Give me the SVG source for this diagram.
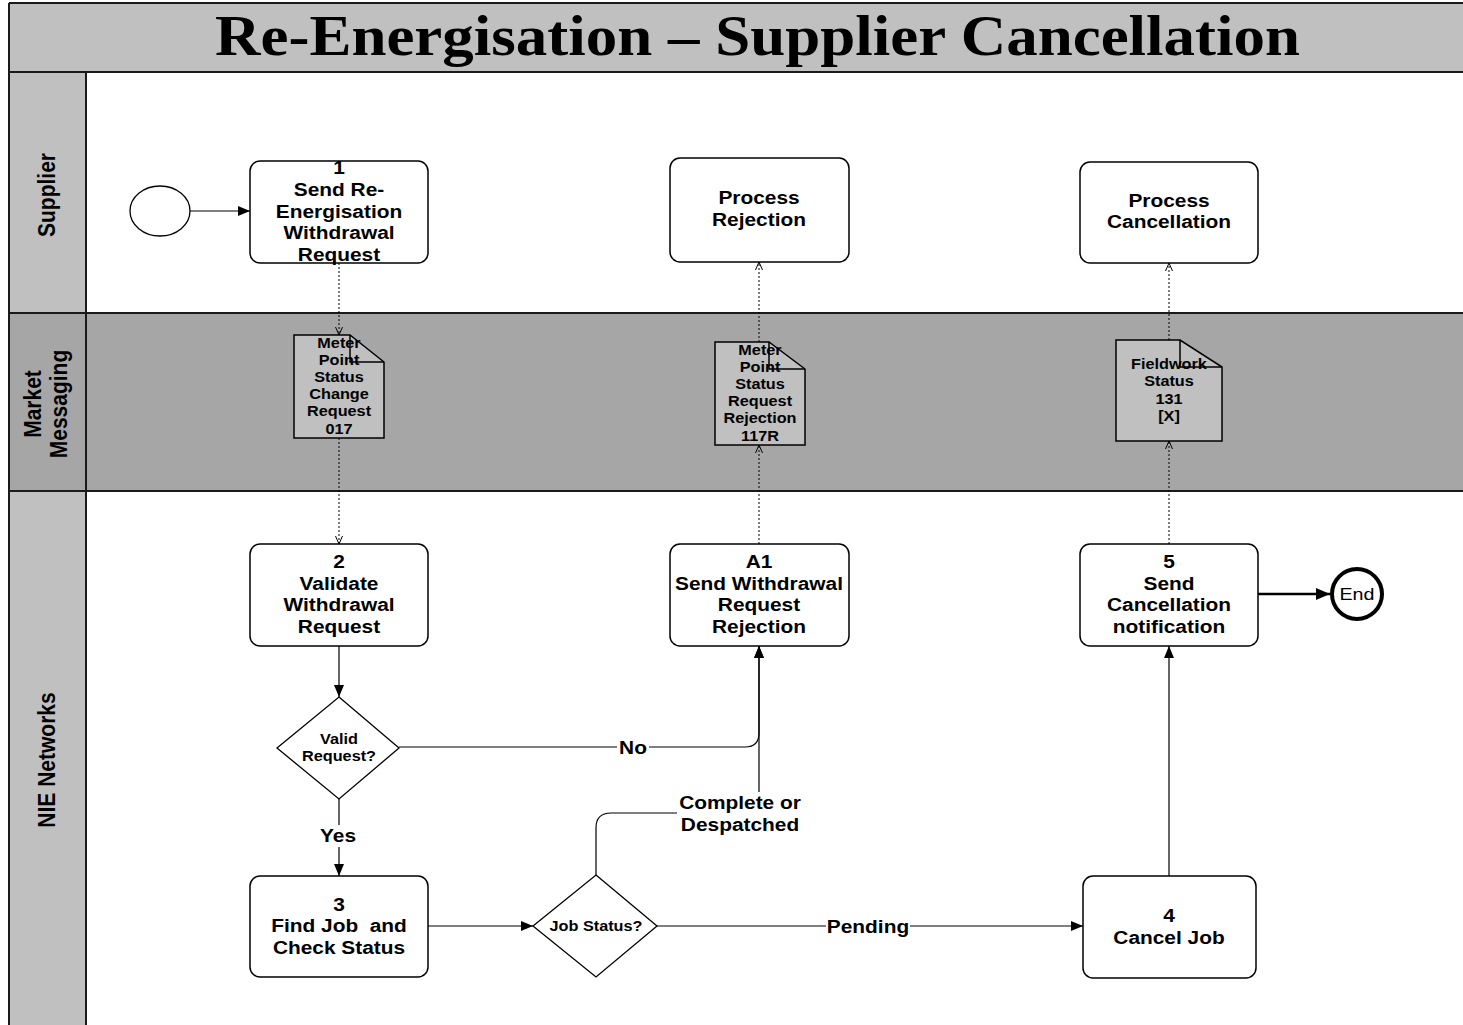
<svg xmlns="http://www.w3.org/2000/svg" width="1463" height="1025" viewBox="0 0 1463 1025">
  <style>
    .lane-line { stroke: #1a1a1a; stroke-width: 2; fill: none; }
    .box { fill: #ffffff; stroke: #000000; stroke-width: 1.5; }
    .doc { fill: #c0c0c0; stroke: #000000; stroke-width: 1.5; }
    .fold { fill: none; stroke: #000000; stroke-width: 1.5; }
    .gate { fill: #ffffff; stroke: #000000; stroke-width: 1.3; }
    .t { font-family: "Liberation Sans", Arial, sans-serif; font-weight: bold; font-size: 18px; text-anchor: middle; fill: #000000; }
    .ts { font-family: "Liberation Sans", Arial, sans-serif; font-weight: bold; font-size: 14px; text-anchor: middle; fill: #000000; }
    .lane { font-family: "Liberation Sans", Arial, sans-serif; font-weight: bold; font-size: 21px; text-anchor: middle; fill: #000000; }
    .flow { fill: none; stroke: #000000; stroke-width: 1.2; marker-end: url(#solid); }
    .msg { fill: none; stroke: #000000; stroke-width: 1; stroke-dasharray: 2 2; marker-end: url(#open); }
    .lblbg { fill: #ffffff; }
  </style>
  <defs>
    <marker id="solid" markerUnits="userSpaceOnUse" markerWidth="12" markerHeight="10" refX="12" refY="5" orient="auto">
      <path d="M0,0 L12,5 L0,10 z" fill="#000000"/>
    </marker>
    <marker id="solidBig" markerUnits="userSpaceOnUse" markerWidth="14" markerHeight="12" refX="14" refY="6" orient="auto">
      <path d="M0,0 L14,6 L0,12 z" fill="#000000"/>
    </marker>
    <marker id="open" markerUnits="userSpaceOnUse" markerWidth="10" markerHeight="8" refX="9" refY="4" orient="auto">
      <path d="M1,0.5 L9,4 L1,7.5" fill="none" stroke="#000000" stroke-width="1"/>
    </marker>
  </defs>

  <!-- title band -->
  <g id="title">
    <rect x="9" y="3" width="1460" height="69" fill="#c0c0c0"/>
    <text x="215" y="55" textLength="1085" lengthAdjust="spacingAndGlyphs" font-family="'Liberation Serif', 'Times New Roman', serif" font-weight="bold" font-size="57" fill="#000000">Re-Energisation – Supplier Cancellation</text>
  </g>

  <!-- swimlanes -->
  <g id="lanes">
    <rect x="9" y="72" width="77" height="241" fill="#c0c0c0"/>
    <rect x="86" y="72" width="1380" height="241" fill="#ffffff"/>
    <rect x="9" y="313" width="1460" height="178" fill="#a6a6a6"/>
    <rect x="9" y="491" width="77" height="540" fill="#c0c0c0"/>
    <rect x="86" y="491" width="1380" height="540" fill="#ffffff"/>
    <path class="lane-line" d="M9,3 H1470 M9,72 H1470 M9,313 H1470 M9,491 H1470 M9,3 V1030 M86,72 V1030"/>
    <text class="lane" transform="translate(55 195) scale(1.16 1) rotate(-90)" x="0" y="0">Supplier</text>
    <text class="lane" transform="translate(41 404) scale(1.16 1) rotate(-90)" x="0" y="0">Market</text>
    <text class="lane" transform="translate(67 404) scale(1.16 1) rotate(-90)" x="0" y="0">Messaging</text>
    <text class="lane" transform="translate(55 760) scale(1.16 1) rotate(-90)" x="0" y="0">NIE Networks</text>
  </g>

  <!-- connectors -->
  <g id="connectors">
    <path class="flow" d="M190,211 H250"/>
    <path class="flow" d="M339,646 V697"/>
    <path class="flow" d="M339,799 V876"/>
    <path class="flow" d="M428,926 H533"/>
    <path class="flow" d="M657,926 H1083"/>
    <path class="flow" d="M1169,876 V646"/>
    <path class="flow" d="M399,747 H745 Q759,747 759,733 V646"/>
    <path class="flow" d="M596,875 V828 Q596,813 611,813 H759 V646"/>
    <path d="M1258,594 H1330" fill="none" stroke="#000000" stroke-width="2.5" marker-end="url(#solidBig)"/>

    <path class="msg" d="M339,263 V335"/>
    <path class="msg" d="M339,438 V544"/>
    <path class="msg" d="M759,544 V445"/>
    <path class="msg" d="M759,342 V262"/>
    <path class="msg" d="M1169,544 V441"/>
    <path class="msg" d="M1169,340 V263"/>

    <rect class="lblbg" x="617" y="737" width="32" height="22"/>
    <text class="t" transform="translate(633 0) scale(1.16 1)" x="0" y="754">No</text>
    <rect class="lblbg" x="318" y="825" width="40" height="22"/>
    <text class="t" transform="translate(338 0) scale(1.16 1)" x="0" y="842">Yes</text>
    <rect class="lblbg" x="826" y="916" width="84" height="22"/>
    <text class="t" transform="translate(868 0) scale(1.16 1)" x="0" y="933">Pending</text>
    <rect class="lblbg" x="677" y="792" width="126" height="44"/>
    <text class="t" transform="translate(740 0) scale(1.16 1)"><tspan x="0" y="809">Complete or</tspan><tspan x="0" y="831">Despatched</tspan></text>
  </g>

  <!-- start event -->
  <g id="start">
    <ellipse cx="160" cy="211" rx="30" ry="25" fill="#ffffff" stroke="#000000" stroke-width="1.3"/>
  </g>

  <!-- supplier tasks -->
  <g id="task1">
    <rect class="box" x="250" y="161" width="178" height="102" rx="10"/>
    <text class="t" transform="translate(339 0) scale(1.16 1)"><tspan x="0" y="174">1</tspan><tspan x="0" y="196">Send Re-</tspan><tspan x="0" y="218">Energisation</tspan><tspan x="0" y="239">Withdrawal</tspan><tspan x="0" y="261">Request</tspan></text>
  </g>
  <g id="process-rejection">
    <rect class="box" x="670" y="158" width="179" height="104" rx="10"/>
    <text class="t" transform="translate(759 0) scale(1.16 1)"><tspan x="0" y="204">Process</tspan><tspan x="0" y="226">Rejection</tspan></text>
  </g>
  <g id="process-cancellation">
    <rect class="box" x="1080" y="162" width="178" height="101" rx="10"/>
    <text class="t" transform="translate(1169 0) scale(1.16 1)"><tspan x="0" y="207">Process</tspan><tspan x="0" y="228">Cancellation</tspan></text>
  </g>

  <!-- market messages -->
  <g id="msg-017">
    <path class="doc" d="M294,335 H350 L384,362 V438 H294 z"/>
    <path class="fold" d="M350,335 V362 H384"/>
    <text class="ts" transform="translate(339 0) scale(1.16 1)"><tspan x="0" y="348">Meter</tspan><tspan x="0" y="365">Point</tspan><tspan x="0" y="382">Status</tspan><tspan x="0" y="399">Change</tspan><tspan x="0" y="416">Request</tspan><tspan x="0" y="434">017</tspan></text>
  </g>
  <g id="msg-117R">
    <path class="doc" d="M715,342 H769 L805,369 V445 H715 z"/>
    <path class="fold" d="M769,342 V369 H805"/>
    <text class="ts" transform="translate(760 0) scale(1.16 1)"><tspan x="0" y="355">Meter</tspan><tspan x="0" y="372">Point</tspan><tspan x="0" y="389">Status</tspan><tspan x="0" y="406">Request</tspan><tspan x="0" y="423">Rejection</tspan><tspan x="0" y="441">117R</tspan></text>
  </g>
  <g id="msg-131">
    <path class="doc" d="M1116,340 H1180 L1222,367 V441 H1116 z"/>
    <path class="fold" d="M1180,340 V367 H1222"/>
    <text class="ts" transform="translate(1169 0) scale(1.16 1)"><tspan x="0" y="369">Fieldwork</tspan><tspan x="0" y="386">Status</tspan><tspan x="0" y="404">131</tspan><tspan x="0" y="421">[X]</tspan></text>
  </g>

  <!-- network tasks -->
  <g id="task2">
    <rect class="box" x="250" y="544" width="178" height="102" rx="10"/>
    <text class="t" transform="translate(339 0) scale(1.16 1)"><tspan x="0" y="568">2</tspan><tspan x="0" y="590">Validate</tspan><tspan x="0" y="611">Withdrawal</tspan><tspan x="0" y="633">Request</tspan></text>
  </g>
  <g id="taskA1">
    <rect class="box" x="670" y="544" width="179" height="102" rx="10"/>
    <text class="t" transform="translate(759 0) scale(1.16 1)"><tspan x="0" y="568">A1</tspan><tspan x="0" y="590">Send Withdrawal</tspan><tspan x="0" y="611">Request</tspan><tspan x="0" y="633">Rejection</tspan></text>
  </g>
  <g id="task5">
    <rect class="box" x="1080" y="544" width="178" height="102" rx="10"/>
    <text class="t" transform="translate(1169 0) scale(1.16 1)"><tspan x="0" y="568">5</tspan><tspan x="0" y="590">Send</tspan><tspan x="0" y="611">Cancellation</tspan><tspan x="0" y="633">notification</tspan></text>
  </g>
  <g id="gate-valid">
    <path class="gate" d="M339,697 L399,748 L339,799 L277,748 z"/>
    <text class="ts" transform="translate(339 0) scale(1.16 1)"><tspan x="0" y="744">Valid</tspan><tspan x="0" y="761">Request?</tspan></text>
  </g>
  <g id="task3">
    <rect class="box" x="250" y="876" width="178" height="101" rx="10"/>
    <text class="t" transform="translate(339 0) scale(1.16 1)"><tspan x="0" y="911">3</tspan><tspan x="0" y="932" xml:space="preserve">Find Job  and</tspan><tspan x="0" y="954">Check Status</tspan></text>
  </g>
  <g id="gate-job">
    <path class="gate" d="M596,875 L657,926 L596,977 L533,926 z"/>
    <text class="ts" transform="translate(596 0) scale(1.16 1)" x="0" y="931">Job Status?</text>
  </g>
  <g id="task4">
    <rect class="box" x="1083" y="876" width="173" height="102" rx="10"/>
    <text class="t" transform="translate(1169 0) scale(1.16 1)"><tspan x="0" y="922">4</tspan><tspan x="0" y="944">Cancel Job</tspan></text>
  </g>
  <g id="end">
    <circle cx="1357" cy="594" r="25" fill="#ffffff" stroke="#000000" stroke-width="4"/>
    <text transform="translate(1357 0) scale(1.16 1)" x="0" y="600" font-family="'Liberation Sans', Arial, sans-serif" font-size="17" text-anchor="middle" fill="#000000">End</text>
  </g>
</svg>
